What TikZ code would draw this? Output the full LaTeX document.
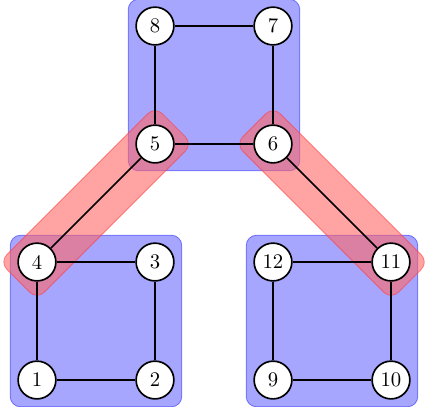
\documentclass[tikz,border=0pt]{standalone}
\usepackage{tikz}
\usetikzlibrary{positioning,fit,backgrounds}

\begin{document}
\begin{tikzpicture}[line join=round,
  vertex/.style={circle,draw,thick,fill=white,minimum size=0.64cm,inner sep=0pt},
  cluster/.style={draw=blue!80,fill=blue,fill opacity=0.35,draw opacity=0.6,rounded corners=5pt,inner sep=0.12cm},
  band/.style={draw=red!80,fill=red!60,fill opacity=0.6,draw opacity=0.5,rounded corners=5pt}]
  \useasboundingbox (-0.627,-0.441) rectangle (6.627,6.441);
  % lower left square
  \node[vertex] (1) at (0,0) {1};
  \node[vertex] (2) at (2,0) {2};
  \node[vertex] (3) at (2,2) {3};
  \node[vertex] (4) at (0,2) {4};
  % top square
  \node[vertex] (5) at (2,4) {5};
  \node[vertex] (6) at (4,4) {6};
  \node[vertex] (7) at (4,6) {7};
  \node[vertex] (8) at (2,6) {8};
  % lower right square
  \node[vertex] (9) at (4,0) {9};
  \node[vertex] (10) at (6,0) {10};
  \node[vertex] (11) at (6,2) {11};
  \node[vertex] (12) at (4,2) {12};
  % edges
  \draw[thick] (1) -- (2) -- (3) -- (4) -- (1);
  \draw[thick] (5) -- (6) -- (7) -- (8) -- (5);
  \draw[thick] (9) -- (10) -- (11) -- (12) -- (9);
  \draw[thick] (4) -- (5);
  \draw[thick] (6) -- (11);
  \begin{scope}[on background layer]
    % clusters
    \node[cluster,fit=(1)(3)] (lowleft) {};
    \node[cluster,fit=(5)(7)] (top) {};
    \node[cluster,fit=(9)(11)] (lowright) {};
    % bridges between clusters
    \begin{scope}[shift={(4.center)},rotate=45]
      \draw[band] (-0.45,-0.45) rectangle (3.28,0.45);
    \end{scope}
    \begin{scope}[shift={(6.center)},rotate=-45]
      \draw[band] (-0.45,-0.45) rectangle (3.28,0.45);
    \end{scope}
  \end{scope}
\end{tikzpicture}
\end{document}
